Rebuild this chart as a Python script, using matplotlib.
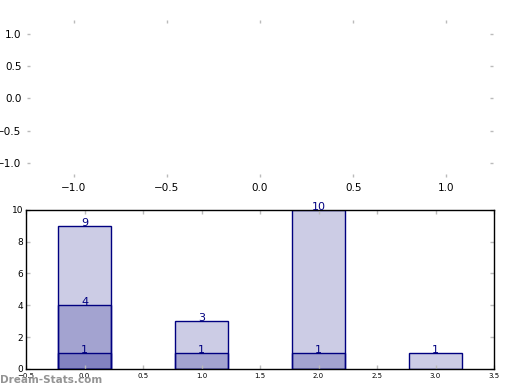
import matplotlib
matplotlib.use("Agg")
import matplotlib.pyplot as plt

# bar data: each layer drawn over the previous one
positions = [0, 1, 2, 3]
layer_1 = [9, 3, 10, 1]
layer_2 = [4, 1, 1, 0]
layer_3 = [1, 0, 0, 0]

top_ticks = [-1.0, -0.5, 0.0, 0.5, 1.0]
bottom_xticks = [-0.5, 0.0, 0.5, 1.0, 1.5, 2.0, 2.5, 3.0, 3.5]
bottom_yticks = [0, 2, 4, 6, 8, 10]

fig = plt.figure(figsize=(5.2, 3.9), dpi=100)

# upper empty axes (no frame)
ax1 = fig.add_axes([0.052, 0.546, 0.896, 0.403])
ax1.set_xlim(-1.25, 1.25)
ax1.set_ylim(-1.22, 1.22)
for s in ax1.spines.values():
    s.set_visible(False)
ax1.set_xticks(top_ticks)
ax1.set_yticks(top_ticks)
ax1.tick_params(color="#bbbbbb", length=2.5, width=1, direction="in",
                top=True, right=True, labelsize=7.5, pad=4)

# lower bar axes
ax2 = fig.add_axes([0.05, 0.054, 0.9, 0.408])
navy_a = (0, 0, 0.5, 0.2)
for layer in [layer_1, layer_2, layer_3]:
    xs = [p for p, v in zip(positions, layer) if v > 0]
    vs = [v for v in layer if v > 0]
    ax2.bar(xs, vs, width=0.45, facecolor=navy_a, edgecolor="#000080", linewidth=1)
    for x, v in zip(xs, vs):
        ax2.text(x, v, str(v), color="#000080", ha="center", va="baseline", fontsize=8)

ax2.set_xlim(-0.5, 3.5)
ax2.set_ylim(0, 10)
ax2.set_xticks(bottom_xticks)
ax2.set_yticks(bottom_yticks)
ax2.tick_params(axis="x", labelsize=5, pad=3)
ax2.tick_params(axis="y", labelsize=6.5, pad=2)
ax2.tick_params(color="#bbbbbb", length=3, width=1, direction="in", top=True, right=True)
for s in ax2.spines.values():
    s.set_linewidth(1)

fig.text(0.0, 0.025, "Dream-Stats.com", color="#888888", fontsize=7.5,
         fontweight="bold", ha="left", va="center", alpha=0.9)

fig.savefig("out.png", dpi=100)
